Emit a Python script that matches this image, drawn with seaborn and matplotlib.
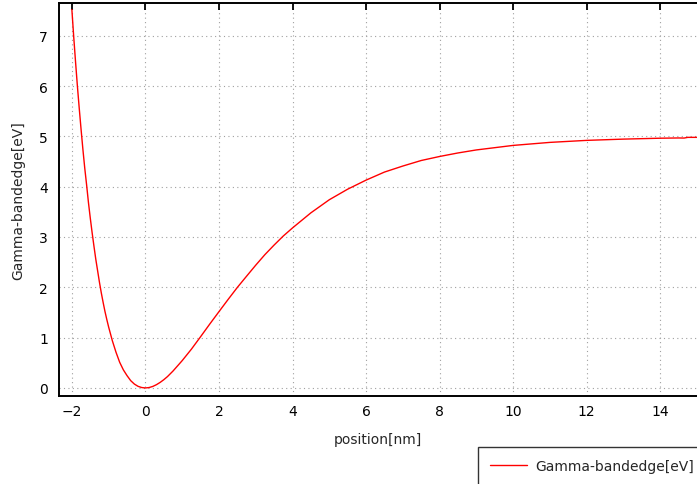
import matplotlib
matplotlib.use("Agg")
import matplotlib.pyplot as plt
import seaborn as sns
import pandas as pd

# Data
position_nm = [-2.0, -1.95, -1.9, -1.85, -1.8, -1.75, -1.7, -1.65, -1.6, -1.55, -1.5,
               -1.45, -1.4, -1.35, -1.3, -1.25, -1.2, -1.15, -1.1, -1.05, -1.0, -0.9,
               -0.8, -0.7, -0.6, -0.5, -0.4, -0.3, -0.2, -0.1, 0.0, 0.1, 0.2, 0.3, 0.4,
               0.5, 0.6, 0.75, 0.9, 1.0, 1.25, 1.5, 1.75, 2.0, 2.25, 2.5, 2.75, 3.0,
               3.25, 3.5, 3.75, 4.0, 4.5, 5.0, 5.5, 6.0, 6.5, 7.0, 7.5, 8.0, 8.5, 9.0,
               10.0, 11.0, 12.0, 13.0, 14.0, 14.5, 14.65, 14.75, 15.0]
gamma_bandedge_eV = [7.52, 6.98, 6.48, 6.00, 5.56, 5.14, 4.74, 4.37, 4.04, 3.69, 3.38,
                     3.09, 2.82, 2.56, 2.33, 2.10, 1.89, 1.70, 1.52, 1.36, 1.21, 0.94,
                     0.71, 0.51, 0.36, 0.245, 0.145, 0.077, 0.032, 0.008, 0.0, 0.008,
                     0.030, 0.065, 0.11, 0.164, 0.226, 0.336, 0.46, 0.543, 0.77, 1.018,
                     1.27, 1.516, 1.76, 1.998, 2.22, 2.44, 2.65, 2.84, 3.02, 3.18, 3.48,
                     3.74, 3.95, 4.13, 4.29, 4.41, 4.52, 4.60, 4.67, 4.73, 4.82, 4.88,
                     4.92, 4.945, 4.963, 4.968, 4.966, 4.98, 4.98]
series_name = "Gamma-bandedge[eV]"
x_ticks = [-2, 0, 2, 4, 6, 8, 10, 12, 14]
y_ticks = [0, 1, 2, 3, 4, 5, 6, 7]

df = pd.DataFrame({"position[nm]": position_nm, series_name: gamma_bandedge_eV})

sns.set_style("white")
plt.rcParams["font.family"] = ["DejaVu Sans"]

fig = plt.figure(figsize=(6.97, 4.85), dpi=100)
ax = fig.add_axes([59 / 697, 1 - 397 / 485, 1 - 59 / 697, (397 - 4) / 485])

sns.lineplot(data=df, x="position[nm]", y=series_name, color="#ff0000",
             linewidth=1.0, ax=ax, label=series_name, legend=False, sort=False)

ax.set_xlim(-2.35, 15.0)
ax.set_ylim(-0.16, 7.65)
ax.set_xticks(x_ticks)
ax.set_yticks(y_ticks)
ax.grid(True, linestyle=(0, (1, 3)), color="#a0a0a0", linewidth=0.8)
ax.tick_params(direction="in", length=5, width=1.3, top=True, right=False,
               labelsize=10, colors="black", pad=6)
ax.tick_params(axis="y", pad=8)
for s in ["left", "bottom", "top"]:
    ax.spines[s].set_visible(True)
    ax.spines[s].set_color("black")
    ax.spines[s].set_linewidth(1.4)
ax.spines["right"].set_visible(False)

ax.set_xlabel("position[nm]", fontsize=10, labelpad=10)
ax.set_ylabel("Gamma-bandedge[eV]", fontsize=10, labelpad=10)

handles, labels = ax.get_legend_handles_labels()
leg = fig.legend(handles, labels, loc="upper left",
                 bbox_to_anchor=(478 / 697, 1 - 448 / 485, 0.35, 0.0),
                 mode="expand", frameon=True, fancybox=False, edgecolor="black",
                 fontsize=10, borderpad=0.85, handlelength=2.7, handletextpad=0.6,
                 borderaxespad=0)
leg.get_frame().set_linewidth(1.0)

fig.savefig("out.png", dpi=100)
